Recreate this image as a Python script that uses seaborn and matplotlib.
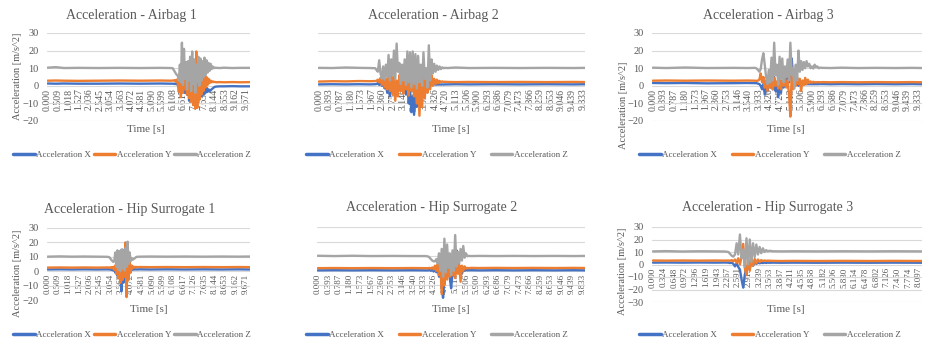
import numpy as np
import pandas as pd
import seaborn as sns
import matplotlib
matplotlib.use("Agg")
import matplotlib.pyplot as plt
from matplotlib.lines import Line2D

sns.set_theme(style="white")
plt.rcParams["font.family"] = ["Liberation Serif", "DejaVu Serif"]

SERIES = ["Acceleration X", "Acceleration Y", "Acceleration Z"]
COLORS = ["#4472C4", "#ED7D31", "#A5A5A5"]
TEXT = "#595959"
GRID = "#D9D9D9"

# ---------------------------------------------------------------- tick labels
ticks_509 = ["0.000", "0.509", "1.018", "1.527", "2.036", "2.545", "3.054", "3.563",
             "4.072", "4.581", "5.090", "5.599", "6.108", "6.617", "7.126", "7.635",
             "8.144", "8.653", "9.162", "9.671"]
ticks_393 = ["0.000", "0.393", "0.787", "1.180", "1.573", "1.967", "2.360", "2.753",
             "3.146", "3.540", "3.933", "4.326", "4.720", "5.113", "5.506", "5.900",
             "6.293", "6.686", "7.079", "7.473", "7.866", "8.259", "8.653", "9.046",
             "9.439", "9.833"]
ticks_324 = ["0.000", "0.324", "0.648", "0.972", "1.296", "1.619", "1.943", "2.267",
             "2.591", "2.915", "3.239", "3.563", "3.887", "4.211", "4.535", "4.858",
             "5.182", "5.506", "5.830", "6.154", "6.478", "6.802", "7.126", "7.450",
             "7.774", "8.097"]

# ---------------------------------------------------------------- Airbag 1
ab1_time = [0.0, 0.4, 0.8, 1.5, 2.5, 3.5, 4.5, 5.5, 6.0, 6.1,
            6.15, 6.20, 6.25, 6.30, 6.35, 6.40, 6.45, 6.50, 6.55, 6.60,
            6.65, 6.70, 6.75, 6.80, 6.85, 6.90, 6.95, 7.00, 7.05, 7.10,
            7.15, 7.20, 7.25, 7.30, 7.35, 7.40, 7.45, 7.50, 7.55, 7.60,
            7.65, 7.70, 7.75, 7.80, 7.85, 7.90, 7.95, 8.00, 8.05, 8.10,
            8.15, 8.25, 8.40, 8.60, 9.00, 9.40, 9.87]
ab1_x = [1.3, 1.2, 1.3, 1.2, 1.2, 1.3, 1.2, 1.3, 1.2, 1.2,
         1.2, 1.0, 1.3, 0.8, 1.5, -1.0, 3.0, -3.0, 4.0, -2.0,
         2.0, -4.0, 3.0, -5.0, 2.0, -8.5, 1.0, -7.0, 4.0, -10.0,
         2.0, -12.5, 6.0, -9.0, 16.0, -7.0, 10.0, -6.0, 3.0, -5.0,
         0.0, -4.0, -1.0, -3.5, -2.0, -3.0, -2.5, -2.0, -1.5, -1.0,
         -0.6, -0.4, -0.3, -0.3, -0.2, -0.3, -0.3]
ab1_y = [2.9, 3.0, 2.9, 2.8, 2.9, 3.0, 2.9, 3.0, 2.9, 3.0,
         3.0, 3.2, 2.5, 3.5, 1.0, -3.5, 5.0, -6.5, 6.0, -4.0,
         7.0, -2.0, 5.0, -5.0, 8.0, -7.0, 6.0, -9.0, 9.0, -11.0,
         12.0, -13.0, 19.5, -12.5, 15.0, -8.0, 10.0, -5.0, 7.0, -3.0,
         6.0, -1.0, 5.0, 0.5, 4.0, 1.5, 3.0, 2.0, 2.5, 2.1,
         2.2, 2.0, 2.1, 2.0, 2.1, 2.0, 2.1]
ab1_z = [10.3, 10.6, 10.1, 10.2, 10.1, 10.2, 10.1, 10.2, 10.1, 10.0,
         9.0, 8.0, 7.0, 6.2, 5.8, 3.0, 12.0, 2.0, 24.5, 0.5,
         21.0, 4.0, 13.5, -2.0, 14.0, 3.0, 16.5, -3.0, 19.5, 1.0,
         15.0, -4.0, 12.0, 2.0, 16.5, 0.0, 15.5, 3.0, 14.0, 5.0,
         16.0, 6.0, 14.5, 7.5, 13.0, 8.5, 12.5, 9.5, 11.0, 10.0,
         10.3, 10.2, 10.1, 10.3, 10.1, 10.2, 10.2]

# ---------------------------------------------------------------- Airbag 2
ab2_time = [0.0, 0.5, 1.0, 1.5, 1.9, 2.1,
            2.15, 2.20, 2.25, 2.30, 2.35, 2.40, 2.45, 2.50, 2.55, 2.60,
            2.65, 2.70, 2.75, 2.80, 2.85, 2.90, 2.95, 3.00, 3.05, 3.10,
            3.15, 3.20, 3.25, 3.30, 3.35, 3.40, 3.45, 3.50, 3.55, 3.60,
            3.65, 3.70, 3.75, 3.80, 3.85, 3.90, 3.95, 4.00, 4.05, 4.10,
            4.15, 4.20, 4.25, 4.30, 4.35, 4.40, 4.45, 4.50, 4.55, 4.60,
            4.65, 4.70, 4.8, 5.1, 5.6, 6.5, 7.5, 8.5, 9.5, 9.95]
ab2_x = [0.8, 0.9, 0.8, 0.9, 0.8, 0.9,
         1.0, 1.5, 0.5, 2.0, 0.0, 1.5, -1.5, 1.0, -4.0, 0.0,
         -6.0, 1.0, -3.0, 2.0, -1.0, 1.5, -2.0, 2.0, -1.0, 3.0,
         -2.0, 4.0, -5.0, 2.0, -10.0, -3.0, -15.0, -6.0, -16.5, -4.0,
         -12.0, 0.0, -6.0, 2.0, -3.0, 1.5, -2.0, 2.5, -1.0, 1.5,
         0.0, 1.2, 0.5, 1.0, 0.6, 0.8, 0.7, 0.8, 0.7, 0.8,
         0.7, 0.8, 0.8, 0.9, 0.8, 0.9, 0.8, 0.9, 0.8, 0.9]
ab2_y = [2.4, 2.6, 2.5, 2.7, 2.6, 2.7,
         2.8, 3.5, 2.0, 4.5, 0.5, 5.0, -1.0, 4.0, -2.0, 6.0,
         -3.0, 8.0, -5.0, 5.0, -8.5, 3.0, -6.0, 6.0, -3.0, 4.0,
         -4.5, 7.0, -2.0, 5.0, -5.5, 9.0, -3.0, 10.0, -6.0, 5.0,
         -10.0, 4.0, -17.0, 3.0, -12.0, 6.0, -7.0, 4.0, -4.0, 8.0,
         -2.0, 6.0, 0.0, 4.0, 1.0, 3.5, 1.5, 2.8, 2.0, 2.5,
         2.2, 2.3, 2.2, 2.1, 2.2, 2.1, 2.2, 2.1, 2.2, 2.1]
ab2_z = [10.2, 10.1, 10.4, 10.2, 10.1, 10.0,
         9.0, 8.0, 14.5, 7.0, 4.0, 11.0, 3.5, 12.0, 5.0, 17.5,
         3.0, 15.0, 6.0, 20.0, 4.0, 24.0, 8.0, 13.0, 1.0, 12.0,
         3.0, 15.0, 0.5, 19.5, 2.0, 19.0, -1.0, 19.5, 1.0, 18.0,
         -1.5, 17.0, 2.0, 12.0, 0.0, 19.0, 4.0, 10.0, -1.0, 23.0,
         3.0, 15.0, 7.0, 12.5, 8.0, 11.5, 9.0, 11.0, 9.5, 10.5,
         10.0, 10.2, 10.1, 10.4, 10.1, 10.2, 10.1, 10.2, 10.1, 10.2]

# ---------------------------------------------------------------- Airbag 3
ab3_time = [0.0, 0.5, 1.2, 2.0, 3.0, 3.5, 3.8,
            3.85, 3.90, 3.95, 4.00, 4.05, 4.10, 4.15, 4.20, 4.25, 4.30,
            4.35, 4.40, 4.45, 4.50, 4.55, 4.60, 4.65, 4.70, 4.75, 4.80,
            4.85, 4.90, 4.95, 5.00, 5.05, 5.10, 5.15, 5.20, 5.25, 5.30,
            5.35, 5.40, 5.45, 5.50, 5.55, 5.60, 5.65, 5.70, 5.75, 5.80,
            5.85, 5.90, 5.95, 6.00, 6.05, 6.10, 6.15, 6.20,
            6.3, 6.6, 7.0, 7.6, 8.3, 9.0, 9.6, 9.98]
ab3_x = [1.6, 1.5, 1.6, 1.4, 1.5, 1.6, 1.5,
         1.5, 1.2, 1.0, 0.0, -2.0, 1.0, -5.0, 0.0, -3.0, 2.0,
         -1.0, 3.0, -2.0, 5.0, -3.0, 2.0, -6.5, 0.0, -4.0, 3.0,
         -1.0, 4.0, 0.0, 6.0, 2.0, 9.0, 15.5, 5.0, 3.0, 1.0,
         2.5, 0.0, 1.5, 0.5, 1.2, 0.8, 1.0, 0.9, 1.0, 0.9,
         1.0, 0.9, 1.0, 0.9, 1.0, 0.9, 1.0, 1.0,
         1.0, 0.9, 1.0, 0.9, 1.0, 0.9, 1.0, 0.9]
ab3_y = [2.9, 3.0, 2.9, 3.0, 2.9, 3.0, 2.9,
         2.8, 3.0, 3.5, 7.0, 2.0, 5.0, -1.0, 3.0, -3.0, 4.0,
         -1.0, 3.5, -2.0, 4.5, 0.0, 2.5, -1.5, 4.0, -2.0, 3.0,
         0.0, 5.0, -1.0, 3.0, -5.0, -17.5, 7.0, -2.0, 6.0, 0.0,
         5.0, 1.0, 4.0, -3.0, 3.0, 0.5, 4.5, 1.0, 3.5, 1.5,
         2.5, 1.8, 2.3, 1.9, 2.1, 2.0, 2.1, 2.0,
         2.1, 2.0, 2.1, 2.0, 2.1, 2.0, 2.1, 2.0]
ab3_z = [10.3, 10.1, 10.4, 10.1, 10.2, 10.1, 10.2,
         9.8, 9.0, 8.0, 9.5, 15.0, 18.5, 12.0, 5.0, 1.0, 9.0,
         2.0, 16.0, 3.0, 24.5, 6.0, 12.0, 0.5, 16.5, 4.0, 15.5,
         2.0, 11.0, 5.0, 15.0, 3.0, 24.5, 6.0, 10.0, -1.5, 12.0,
         3.0, 20.0, 8.0, 14.0, 9.0, 13.5, 10.0, 14.0, 11.0, 12.5,
         10.0, 11.0, 9.8, 12.0, 10.5, 11.0, 10.0, 10.3,
         10.2, 10.1, 10.3, 10.1, 10.2, 10.1, 10.2, 10.1]

# ---------------------------------------------------------------- Hip Surrogate 1
hip1_time = [0.0, 0.6, 1.2, 1.8, 2.4, 2.9,
             3.00, 3.05, 3.10, 3.15, 3.20, 3.25, 3.30, 3.35, 3.40, 3.45,
             3.50, 3.55, 3.60, 3.65, 3.70, 3.75, 3.80, 3.85, 3.90, 3.95,
             4.00, 4.05, 4.10, 4.15, 4.20, 4.25, 4.30, 4.35,
             4.5, 5.0, 5.8, 6.7, 7.6, 8.5, 9.3, 9.87]
hip1_x = [1.2, 1.3, 1.2, 1.3, 1.2, 1.3,
          1.2, 1.3, 1.0, 1.5, 0.5, 2.0, -1.0, 3.0, -3.0, 4.0,
          -5.0, 5.0, -14.0, 15.0, -8.0, 6.0, -3.0, -6.0, 2.0, -2.0,
          2.5, 0.5, 1.8, 1.0, 1.4, 1.2, 1.3, 1.2,
          1.3, 1.2, 1.3, 1.2, 1.3, 1.2, 1.3, 1.2]
hip1_y = [2.5, 2.6, 2.5, 2.6, 2.5, 2.6,
          2.6, 2.4, 2.8, 2.0, 3.0, 1.0, 4.0, -2.0, 5.0, -5.0,
          6.0, -8.0, 8.0, -6.0, 12.0, -4.0, 20.0, -18.0, 8.0, -6.0,
          6.0, -1.0, 4.0, 2.0, 3.2, 2.6, 3.0, 2.8,
          2.9, 2.8, 2.9, 2.8, 2.9, 2.8, 2.9, 2.8]
hip1_z = [10.1, 10.3, 10.1, 10.2, 10.1, 10.0,
          9.8, 9.0, 8.0, 7.2, 6.5, 7.0, 13.0, 3.0, 14.5, 1.0,
          14.0, 0.0, 15.0, 2.0, 14.5, 0.5, 16.0, 3.0, 20.5, 5.0,
          13.0, 7.0, 9.0, 8.0, 8.5, 9.0, 9.6, 10.0,
          10.1, 10.2, 10.1, 10.2, 10.1, 10.2, 10.1, 10.2]

# ---------------------------------------------------------------- Hip Surrogate 2
hip2_time = [0.0, 0.6, 1.3, 2.0, 2.8, 3.5, 4.0,
             4.10, 4.15, 4.20, 4.25, 4.30, 4.35, 4.40, 4.45, 4.50, 4.55,
             4.60, 4.65, 4.70, 4.75, 4.80, 4.85, 4.90, 4.95, 5.00, 5.05,
             5.10, 5.15, 5.20, 5.25, 5.30, 5.35, 5.40, 5.45, 5.50, 5.55,
             5.60,
             5.7, 6.0, 6.6, 7.3, 8.0, 8.8, 9.5, 9.95]
hip2_x = [0.3, 0.4, 0.3, 0.4, 0.3, 0.4, 0.3,
          0.3, 0.5, 0.0, 0.8, -0.5, 1.0, -1.0, 2.0, -4.0, 1.0,
          -10.0, -18.5, -6.0, 2.0, -3.0, 3.0, -5.0, -12.0, -2.0, 4.0,
          6.0, 14.0, 3.0, -1.0, 2.0, -2.0, 1.0, 0.0, 0.6, 0.3,
          0.4,
          0.4, 0.3, 0.4, 0.3, 0.4, 0.3, 0.4, 0.3]
hip2_y = [1.8, 1.9, 1.8, 1.9, 1.8, 1.9, 1.8,
          1.8, 2.0, 1.5, 2.3, 1.0, 3.5, 0.0, 4.5, -3.0, 5.0,
          -16.0, 3.0, -10.0, 5.0, -6.0, 4.0, -4.0, 6.0, -3.0, 4.0,
          -5.0, 3.0, -2.0, 4.0, -7.5, 3.5, 0.0, 3.0, 1.5, 2.0,
          1.8,
          2.0, 1.9, 2.0, 1.9, 2.0, 1.9, 2.0, 1.9]
hip2_z = [10.3, 10.1, 10.3, 10.1, 10.2, 10.1, 10.1,
          9.8, 9.0, 8.0, 7.0, 6.5, 6.5, 8.0, 5.0, 12.0, 0.0,
          15.0, -4.0, 22.0, -1.0, 18.0, 2.0, 12.0, -3.0, 14.0, 0.0,
          24.5, 3.0, 13.0, 5.0, 15.0, 7.0, 17.0, 9.0, 12.0, 10.0,
          10.2,
          10.1, 10.2, 10.1, 10.2, 10.1, 10.2, 10.1, 10.2]

# ---------------------------------------------------------------- Hip Surrogate 3
hip3_time = [0.0, 0.4, 0.9, 1.4, 1.9, 2.2,
             2.30, 2.35, 2.40, 2.45, 2.50, 2.55, 2.60, 2.65, 2.70, 2.75,
             2.80, 2.85, 2.90, 2.95, 3.00, 3.05, 3.10, 3.15, 3.20, 3.25,
             3.30, 3.35, 3.40, 3.45, 3.50, 3.55,
             3.65, 3.9, 4.3, 5.0, 5.8, 6.6, 7.3, 8.2]
hip3_x = [1.5, 1.6, 1.5, 1.6, 1.5, 1.6,
          1.5, 1.2, 1.5, 0.5, -1.5, 1.0, -2.0, -4.0, -12.0, -18.5,
          -8.0, -4.0, 0.0, -3.0, 2.0, -1.0, 2.0, 0.5, 1.5, 1.0,
          1.4, 1.2, 1.5, 1.3, 1.5, 1.4,
          1.5, 1.4, 1.5, 1.4, 1.5, 1.4, 1.5, 1.4]
hip3_y = [3.2, 3.1, 3.2, 3.1, 3.2, 3.1,
          3.2, 3.0, 3.5, 2.5, 4.0, 1.5, 5.0, 0.0, 6.0, 16.5,
          -3.0, -8.5, 6.0, -5.0, 5.0, -1.0, 4.5, 1.0, 4.0, 2.0,
          3.5, 2.8, 3.2, 2.9, 3.1, 3.0,
          2.9, 2.8, 2.9, 2.8, 2.9, 2.8, 2.9, 2.8]
hip3_z = [10.5, 10.7, 10.4, 10.6, 10.5, 10.4,
          10.0, 8.5, 7.0, 6.3, 8.0, 17.0, 8.0, 24.0, 5.0, 12.0,
          -2.0, 21.0, 0.0, 20.0, 2.0, 17.0, 6.0, 16.0, 8.0, 14.0,
          9.0, 13.0, 10.0, 11.5, 10.5, 11.0,
          10.6, 10.5, 10.6, 10.5, 10.6, 10.5, 10.6, 10.5]

# ---------------------------------------------------------------- layout (pixels)
W, H = 930, 344

charts = [
    dict(title="Acceleration - Airbag 1", t=ab1_time, s=(ab1_x, ab1_y, ab1_z),
         ticks=ticks_509, xmax=9.87, ylim=(-20, 30), box=(47, 250, 33, 121),
         ylabels=True, title_xy=(131, 15), xlab_xy=(146, 129), ylab_xy=(17, 76),
         leg_xy=(132, 155), colsp=0.3, tfs=7.0),
    dict(title="Acceleration - Airbag 2", t=ab2_time, s=(ab2_x, ab2_y, ab2_z),
         ticks=ticks_393, xmax=9.92, ylim=(-20, 30), box=(318, 585, 33, 121),
         ylabels=False, title_xy=(433, 15), xlab_xy=(451, 129), ylab_xy=None,
         leg_xy=(437, 155), colsp=1.6, tfs=7.0),
    dict(title="Acceleration - Airbag 3", t=ab3_time, s=(ab3_x, ab3_y, ab3_z),
         ticks=ticks_393, xmax=9.98, ylim=(-20, 30), box=(652, 922, 33, 121),
         ylabels=True, title_xy=(768, 15), xlab_xy=(786, 129), ylab_xy=(623, 105),
         leg_xy=(770, 155), colsp=1.6, tfs=7.0),
    dict(title="Acceleration - Hip Surrogate 1", t=hip1_time, s=(hip1_x, hip1_y, hip1_z),
         ticks=ticks_509, xmax=9.87, ylim=(-20, 30), box=(47, 250, 228, 300),
         ylabels=True, title_xy=(130, 209), xlab_xy=(149, 309), ylab_xy=(17, 273),
         leg_xy=(132, 335), colsp=0.3, tfs=6.5),
    dict(title="Acceleration - Hip Surrogate 2", t=hip2_time, s=(hip2_x, hip2_y, hip2_z),
         ticks=ticks_393, xmax=9.92, ylim=(-20, 30), box=(317, 585, 227, 300),
         ylabels=False, title_xy=(432, 207), xlab_xy=(451, 309), ylab_xy=None,
         leg_xy=(437, 335), colsp=1.6, tfs=6.5),
    dict(title="Acceleration - Hip Surrogate 3", t=hip3_time, s=(hip3_x, hip3_y, hip3_z),
         ticks=ticks_324, xmax=8.2, ylim=(-30, 30), box=(652, 922, 227, 302),
         ylabels=True, title_xy=(768, 208), xlab_xy=(786, 309), ylab_xy=(622, 271),
         leg_xy=(770, 335), colsp=1.6, tfs=6.5),
]

fig = plt.figure(figsize=(W / 100, H / 100), dpi=100)
fig.patch.set_facecolor("white")


def fx(px):
    return px / W


def fy(py):
    return 1 - py / H


for c in charts:
    l, r, top, bot = c["box"]
    ax = fig.add_axes([fx(l), fy(bot), (r - l) / W, (bot - top) / H])
    n = len(c["t"])
    df = pd.DataFrame({
        "Time": np.tile(np.asarray(c["t"], dtype=float), 3),
        "Value": np.concatenate([np.asarray(v, dtype=float) for v in c["s"]]),
        "Series": np.repeat(SERIES, n),
    })
    sns.lineplot(data=df, x="Time", y="Value", hue="Series", hue_order=SERIES,
                 palette=COLORS, estimator=None, sort=False, linewidth=1.7,
                 legend=False, ax=ax)

    lo, hi = c["ylim"]
    ax.set_ylim(lo, hi)
    ax.set_xlim(-0.03, c["xmax"])
    ax.set_yticks(np.arange(lo, hi + 1, 10))
    ax.yaxis.grid(True, color=GRID, linewidth=0.8)
    ax.xaxis.grid(False)
    ax.set_axisbelow(True)
    for sp in ax.spines.values():
        sp.set_visible(False)
    ax.spines["bottom"].set_position(("data", 0))

    ax.set_xticks([float(s) for s in c["ticks"]])
    ax.set_xticklabels(c["ticks"], rotation=90, fontsize=c["tfs"], color=TEXT)
    ax.tick_params(axis="x", length=0, pad=2)
    if c["ylabels"]:
        ax.tick_params(axis="y", length=0, pad=6, labelsize=7.5, labelcolor=TEXT)
    else:
        ax.tick_params(axis="y", length=0, labelleft=False)
    ax.set_xlabel("")
    ax.set_ylabel("")

    fig.text(fx(c["title_xy"][0]), fy(c["title_xy"][1]), c["title"], ha="center",
             va="center", fontsize=10, color=TEXT)
    fig.text(fx(c["xlab_xy"][0]), fy(c["xlab_xy"][1]), "Time [s]", ha="center",
             va="center", fontsize=8, color=TEXT)
    if c["ylab_xy"] is not None:
        fig.text(fx(c["ylab_xy"][0]), fy(c["ylab_xy"][1]), "Acceleration [m/s^2]",
                 ha="center", va="center", rotation=90, fontsize=7.5, color=TEXT)

    handles = [Line2D([], [], color=col, linewidth=2.5) for col in COLORS]
    fig.legend(handles, SERIES, loc="center",
               bbox_to_anchor=(fx(c["leg_xy"][0]), fy(c["leg_xy"][1])),
               ncol=3, frameon=False, fontsize=6.5, handlelength=2.4,
               handletextpad=0.15, columnspacing=c["colsp"], labelcolor=TEXT,
               borderaxespad=0, borderpad=0)

fig.savefig("out.png", dpi=100, facecolor="white")
